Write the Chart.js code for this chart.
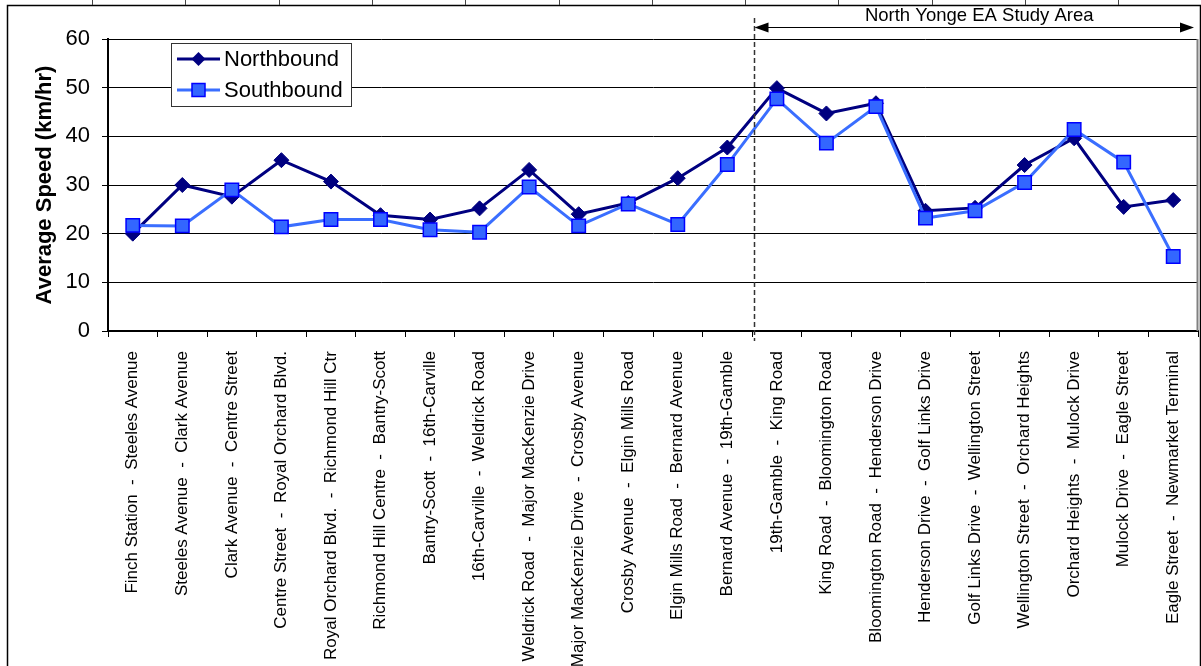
<!DOCTYPE html>
<html>
<head>
<meta charset="utf-8">
<title>Average Speed along Yonge Street</title>
<script src="https://cdn.jsdelivr.net/npm/chart.js@4/dist/chart.umd.min.js"></script>
<style>
  html, body { margin: 0; padding: 0; background: #fff; }
  #wrap { width: 1201px; height: 666px; }
</style>
</head>
<body>
<div id="wrap"><canvas id="speedChart" width="1201" height="666"></canvas></div>
<script>
// Road segments along the corridor (south to north)
const segments = [
  'Finch Station  -  Steeles Avenue',
  'Steeles Avenue  -  Clark Avenue',
  'Clark Avenue  -  Centre Street',
  'Centre Street  -  Royal Orchard Blvd.',
  'Royal Orchard Blvd.  -  Richmond Hill Ctr',
  'Richmond Hill Centre  -  Bantry-Scott',
  'Bantry-Scott  -  16th-Carville',
  '16th-Carville  -  Weldrick Road',
  'Weldrick Road  -  Major MacKenzie Drive',
  'Major MacKenzie Drive  -  Crosby Avenue',
  'Crosby Avenue  -  Elgin Mills Road',
  'Elgin Mills Road  -  Bernard Avenue',
  'Bernard Avenue  -  19th-Gamble',
  '19th-Gamble  -  King Road',
  'King Road  -  Bloomington Road',
  'Bloomington Road  -  Henderson Drive',
  'Henderson Drive  -  Golf Links Drive',
  'Golf Links Drive  -  Wellington Street',
  'Wellington Street  -  Orchard Heights',
  'Orchard Heights  -  Mulock Drive',
  'Mulock Drive  -  Eagle Street',
  'Eagle Street  -  Newmarket Terminal'
];

// Average speed per segment (km/hr)
const northbound = [20.0, 30.0, 27.6, 35.1, 30.7, 23.8, 22.9, 25.2, 33.1, 24.0, 26.3,
                    31.4, 37.7, 49.9, 44.7, 46.8, 24.7, 25.3, 34.1, 39.6, 25.5, 26.9];
const southbound = [21.7, 21.6, 29.0, 21.4, 22.9, 22.9, 20.8, 20.3, 29.6, 21.6, 26.1,
                    21.9, 34.2, 47.7, 38.6, 46.1, 23.2, 24.7, 30.5, 41.4, 34.7, 15.3];

// Value axis
const speedTicks = [0, 10, 20, 30, 40, 50, 60];

// Study area begins after this segment index
const studyAreaStartAfter = 12;
const studyAreaLabel = 'North Yonge EA Study Area';

const FONT = "'Liberation Sans', Arial, sans-serif";
const NAVY = '#000080';
const SB_LINE = '#3A6EFF';
const SB_FILL = '#3366FF';
const SB_EDGE = '#0000FF';

// Page frame, white background
const framePlugin = {
  id: 'frame',
  beforeDraw(chart) {
    const ctx = chart.ctx;
    ctx.save();
    ctx.fillStyle = '#fff';
    ctx.fillRect(0, 0, chart.width, chart.height);
    ctx.strokeStyle = '#000';
    ctx.lineWidth = 1.5;
    ctx.strokeRect(7.5, 5.5, chart.width - 8, chart.height + 10);
    // small marks above the frame
    ctx.strokeStyle = '#444';
    ctx.lineWidth = 1;
    for (let x = 92; x < chart.width; x += 93.3) {
      ctx.beginPath();
      ctx.moveTo(Math.round(x) + 0.5, 0);
      ctx.lineTo(Math.round(x) + 0.5, 5);
      ctx.stroke();
    }
    ctx.restore();
  },
  afterDraw(chart) {
    const ctx = chart.ctx;
    const a = chart.chartArea;
    ctx.save();
    ctx.strokeStyle = '#808080';
    ctx.lineWidth = 2;
    ctx.beginPath();
    ctx.moveTo(a.right - 0.5, a.top);
    ctx.lineTo(a.right - 0.5, a.bottom);
    ctx.stroke();
    ctx.restore();
  }
};

// Dashed divider and the study-area arrow
const studyAreaPlugin = {
  id: 'studyArea',
  afterDraw(chart) {
    const ctx = chart.ctx;
    const xs = chart.scales.x;
    const a = chart.chartArea;
    // divider sits just right of the boundary tick between the two segments
    const xDiv = Math.round((xs.getPixelForValue(studyAreaStartAfter) + xs.getPixelForValue(studyAreaStartAfter + 1)) / 2) + 2.5;
    const xEnd = a.right - 4;
    const yArrow = 27.5;
    ctx.save();
    ctx.strokeStyle = '#333';
    ctx.lineWidth = 1.5;
    ctx.setLineDash([5, 3]);
    ctx.beginPath();
    ctx.moveTo(xDiv, 18);
    ctx.lineTo(xDiv, a.bottom + 10);
    ctx.stroke();
    ctx.setLineDash([]);

    ctx.strokeStyle = '#000';
    ctx.lineWidth = 1;
    ctx.beginPath();
    ctx.moveTo(xDiv + 10, yArrow);
    ctx.lineTo(xEnd - 10, yArrow);
    ctx.stroke();
    ctx.fillStyle = '#000';
    ctx.beginPath();
    ctx.moveTo(xDiv, yArrow);
    ctx.lineTo(xDiv + 14, yArrow - 5);
    ctx.lineTo(xDiv + 14, yArrow + 5);
    ctx.closePath();
    ctx.fill();
    ctx.beginPath();
    ctx.moveTo(xEnd, yArrow);
    ctx.lineTo(xEnd - 14, yArrow - 5);
    ctx.lineTo(xEnd - 14, yArrow + 5);
    ctx.closePath();
    ctx.fill();

    ctx.font = '18.5px ' + FONT;
    ctx.textAlign = 'center';
    ctx.textBaseline = 'alphabetic';
    ctx.fillText(studyAreaLabel, (xDiv + a.right) / 2 + 3, 21);
    ctx.restore();
  }
};

// Boxed legend inside the plot
const boxLegendPlugin = {
  id: 'boxLegend',
  afterDraw(chart) {
    const ctx = chart.ctx;
    const bx = 171, by = 43, bw = 181, bh = 64;
    ctx.save();
    ctx.fillStyle = '#fff';
    ctx.fillRect(bx, by, bw, bh);
    ctx.strokeStyle = '#333';
    ctx.lineWidth = 1;
    ctx.strokeRect(bx + 0.5, by + 0.5, bw - 1, bh - 1);

    const rows = [
      { y: 59, label: chart.data.datasets[0].label, line: NAVY, shape: 'diamond' },
      { y: 90, label: chart.data.datasets[1].label, line: SB_LINE, shape: 'square' }
    ];
    rows.forEach(r => {
      ctx.strokeStyle = r.line;
      ctx.lineWidth = 3;
      ctx.beginPath();
      ctx.moveTo(177, r.y);
      ctx.lineTo(220, r.y);
      ctx.stroke();
      const cx = 198.5;
      if (r.shape === 'diamond') {
        ctx.fillStyle = NAVY;
        ctx.beginPath();
        ctx.moveTo(cx, r.y - 7);
        ctx.lineTo(cx + 7, r.y);
        ctx.lineTo(cx, r.y + 7);
        ctx.lineTo(cx - 7, r.y);
        ctx.closePath();
        ctx.fill();
      } else {
        ctx.fillStyle = SB_FILL;
        ctx.strokeStyle = SB_EDGE;
        ctx.lineWidth = 1.5;
        ctx.fillRect(cx - 6.5, r.y - 6.5, 13, 13);
        ctx.strokeRect(cx - 6.5, r.y - 6.5, 13, 13);
      }
      ctx.fillStyle = '#000';
      ctx.font = '22px ' + FONT;
      ctx.textAlign = 'left';
      ctx.textBaseline = 'middle';
      ctx.fillText(r.label, 224, r.y + 1);
    });
    ctx.restore();
  }
};

new Chart(document.getElementById('speedChart'), {
  type: 'line',
  data: {
    labels: segments,
    datasets: [
      {
        label: 'Northbound',
        data: northbound,
        borderColor: NAVY,
        backgroundColor: NAVY,
        borderWidth: 3,
        pointStyle: 'rectRot',
        pointRadius: 7.5,
        pointBorderWidth: 1,
        pointBackgroundColor: NAVY,
        pointBorderColor: NAVY,
        tension: 0,
        order: 2
      },
      {
        label: 'Southbound',
        data: southbound,
        borderColor: SB_LINE,
        backgroundColor: SB_FILL,
        borderWidth: 3,
        pointStyle: 'rect',
        pointRadius: 9.5,
        pointBorderWidth: 1.5,
        pointBackgroundColor: SB_FILL,
        pointBorderColor: SB_EDGE,
        tension: 0,
        order: 1
      }
    ]
  },
  options: {
    responsive: false,
    animation: false,
    devicePixelRatio: 1,
    layout: { autoPadding: false, padding: { top: 39, right: 3, left: 0, bottom: 0 } },
    plugins: {
      legend: { display: false },
      tooltip: { enabled: false }
    },
    scales: {
      x: {
        type: 'category',
        offset: true,
        grid: {
          offset: true,
          drawOnChartArea: false,
          drawTicks: true,
          tickLength: 6,
          color: '#000',
          lineWidth: 1
        },
        border: { display: true, color: '#000', width: 2 },
        ticks: {
          autoSkip: false,
          minRotation: 90,
          maxRotation: 90,
          padding: 14,
          color: '#000',
          font: { family: FONT, size: 17 }
        },
        afterFit(scale) {
          scale.height = 335;
          scale.paddingLeft = 0;
          scale.paddingRight = 0;
        }
      },
      y: {
        min: 0,
        max: 60,
        afterBuildTicks(scale) { scale.ticks = speedTicks.map(v => ({ value: v })); },
        grid: {
          color: '#000',
          lineWidth: 1,
          drawTicks: true,
          tickLength: 6
        },
        border: { display: true, color: '#000', width: 2 },
        ticks: {
          padding: 12,
          color: '#000',
          font: { family: FONT, size: 22 }
        },
        title: {
          display: true,
          text: 'Average Speed (km/hr)',
          color: '#000',
          font: { family: FONT, size: 22, weight: 'bold' },
          padding: { top: 32, bottom: 0 }
        },
        afterFit(scale) { scale.width = 108; }
      }
    }
  },
  plugins: [framePlugin, studyAreaPlugin, boxLegendPlugin]
});
</script>
</body>
</html>
